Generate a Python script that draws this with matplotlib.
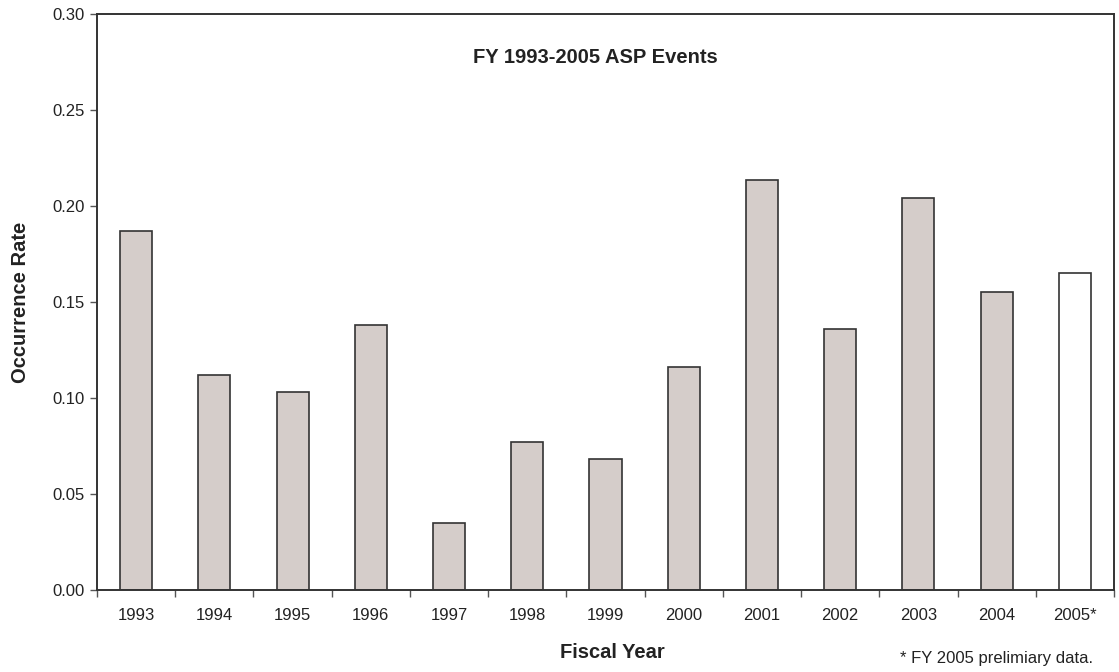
import numpy as np
import matplotlib.pyplot as plt
from matplotlib import rc

rc('font', **{'family': 'sans-serif', 'sans-serif': ['Liberation Sans', 'DejaVu Sans'], 'size': 12})

years = ["1993", "1994", "1995", "1996", "1997", "1998", "1999",
         "2000", "2001", "2002", "2003", "2004", "2005*"]
rates = [0.187, 0.112, 0.103, 0.138, 0.035, 0.077, 0.068,
         0.116, 0.2135, 0.136, 0.204, 0.155, 0.165]
preliminary = [False]*12 + [True]

fig = plt.figure(figsize=(11.19, 6.72), dpi=100)
fig.patch.set_facecolor('w')
ax = fig.add_axes([97/1119, 82/672, (1114-97)/1119, (590-14)/672])

x = np.arange(len(years))
colors = ['w' if p else '#d5cdca' for p in preliminary]
ax.bar(x, rates, width=0.41, color=colors, edgecolor='#333333', linewidth=1.2, zorder=2)

ax.set_xlim(-0.5, len(years)-0.5)
ax.set_ylim(0, 0.30)
yt = np.arange(0, 0.301, 0.05)
ax.set_yticks(yt)
ax.set_yticklabels(["%.2f" % v for v in yt])
ax.set_xticks(x)
ax.set_xticklabels(years)
ax.set_xticks(np.arange(-0.5, len(years), 1.0), minor=True)
ax.tick_params(axis='x', which='major', length=0, pad=13, colors='#222222')
ax.tick_params(axis='x', which='minor', length=5, width=1, color='#555555', direction='out')
ax.tick_params(axis='y', length=5, width=1, color='#555555', pad=4, colors='#222222')

for sp in ax.spines.values():
    sp.set_color('#333333')
    sp.set_linewidth(1.4)

ax.text(0.49, 0.925, "FY 1993-2005 ASP Events", transform=ax.transAxes,
        ha='center', va='center', fontsize=14.5, fontweight='bold', color='#222222')
ax.set_ylabel("Occurrence Rate", fontsize=14.5, fontweight='bold', color='#222222', labelpad=16)
fig.text(612/1119, 1-652/672, "Fiscal Year", ha='center', va='center',
         fontsize=14.5, fontweight='bold', color='#222222')
fig.text(996/1119, 1-659/672, "* FY 2005 prelimiary data.", ha='center', va='center',
         fontsize=12, color='#222222')

fig.savefig("out.png", dpi=100)
